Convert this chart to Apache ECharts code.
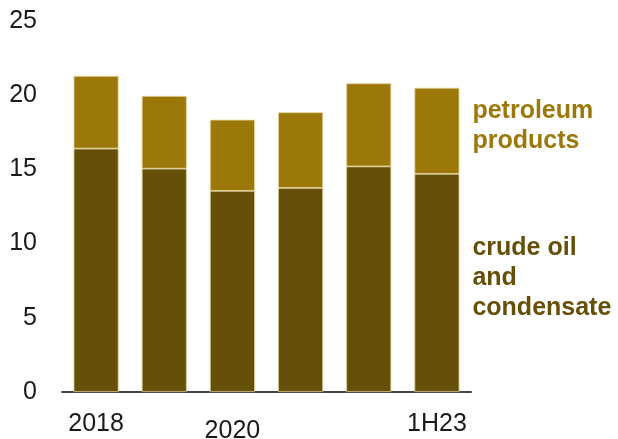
<!DOCTYPE html>
<html>
<head>
<meta charset="utf-8">
<script src="https://cdn.jsdelivr.net/npm/echarts@6/dist/echarts.min.js"></script>
<style>
  html, body { margin: 0; padding: 0; background: #fff; }
  #chart { width: 618px; height: 439px; }
</style>
</head>
<body>
<div id="chart"></div>
<script>
// Periods on the x axis and the labels printed under them
const categories = ['2018', '2019', '2020', '2021', '2022', '1H23'];
const tickLabels = ['2018', '', '2020', '', '', '1H23'];

// Stacked volumes
const crudeOil = [16.4, 15.05, 13.55, 13.75, 15.2, 14.7];
const petroleumProducts = [4.9, 4.9, 4.8, 5.1, 5.6, 5.8];

const crudeName = 'crude oil\nand\ncondensate';
const productsName = 'petroleum\nproducts';

const crudeColor = '#664f08';
const productsColor = '#9c780a';
const font = 'Liberation Sans, Arial, sans-serif';

// Series name shown beside the last bar only
function lastLabel(color) {
  return {
    show: true,
    position: 'right',
    distance: 13,
    offset: [0, -5],
    fontFamily: font,
    fontSize: 25,
    fontWeight: 'bold',
    lineHeight: 30,
    color: color,
    formatter: p => p.dataIndex === categories.length - 1 ? p.seriesName : ''
  };
}

const chart = echarts.init(document.getElementById('chart'), null, { renderer: 'canvas' });
chart.setOption({
  animation: false,
  grid: { left: 62, right: 147, top: 21, bottom: 47, outerBoundsMode: 'none', containLabel: false },
  xAxis: {
    type: 'category',
    data: categories,
    axisLine: { lineStyle: { color: '#444', width: 2 } },
    axisTick: { show: false },
    axisLabel: {
      interval: 0,
      margin: 20,
      fontFamily: font,
      fontSize: 25,
      color: '#1a1a1a',
      formatter: (v, i) => i === 2 ? '{low|' + tickLabels[i] + '}' : tickLabels[i],
      rich: {
        low: { fontFamily: font, fontSize: 25, color: '#1a1a1a', padding: [7, 0, 0, 0] }
      }
    }
  },
  yAxis: {
    type: 'value',
    min: 0,
    max: 25,
    interval: 5,
    splitLine: { show: false },
    axisLine: { show: false },
    axisTick: { show: false },
    axisLabel: { margin: 25, fontFamily: font, fontSize: 25, color: '#1a1a1a' }
  },
  series: [
    {
      name: crudeName,
      type: 'bar',
      stack: 'total',
      data: crudeOil,
      barCategoryGap: '34%',
      itemStyle: { color: crudeColor, borderColor: '#d9c98f', borderWidth: 0.8 },
      label: lastLabel(crudeColor)
    },
    {
      name: productsName,
      type: 'bar',
      stack: 'total',
      data: petroleumProducts,
      barCategoryGap: '34%',
      itemStyle: { color: productsColor, borderColor: '#e3d39a', borderWidth: 0.8 },
      label: lastLabel(productsColor)
    }
  ]
});
</script>
</body>
</html>
